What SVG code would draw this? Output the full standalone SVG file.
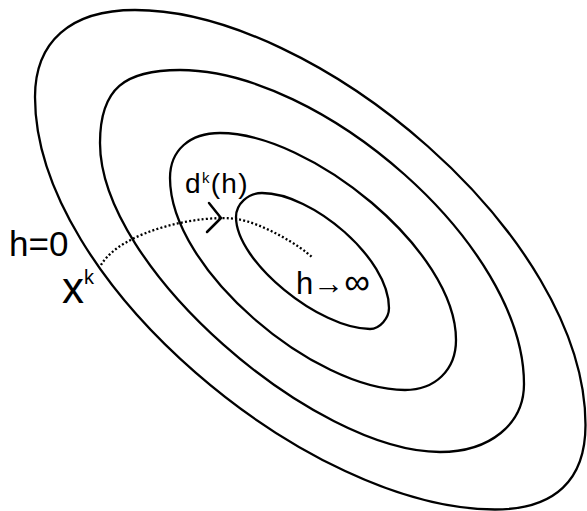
<svg xmlns="http://www.w3.org/2000/svg" width="587" height="511" viewBox="0 0 587 511">
<style>
.contour{fill:none;stroke:#000;stroke-width:2.3;stroke-linejoin:round}
.traj{fill:none;stroke:#000;stroke-width:2.3;stroke-dasharray:2 2.2}
.head{fill:none;stroke:#000;stroke-width:2.5;stroke-linecap:round;stroke-linejoin:round}
.lbl{font-family:"Liberation Sans","DejaVu Sans",sans-serif;fill:#000}
</style>
<rect width="587" height="511" fill="#fff"/>
<g id="contours">
<path id="contour-outer" class="contour" d="M35,97 C35,42 70,10 135,10 C315,10 585.5,235 585.5,425 C585.5,480 555,509.5 495,509.5 C310,509.5 35,282 35,97 Z"/>
<path id="contour-2" class="contour" d="M100,143 C100,88 125,70 180,70 C320,70 524,244 524,384 C524,424 490,452 440,452 C315,452 100,268 100,143 Z"/>
<path id="contour-3" class="contour" d="M170,178 C170,150 190,133 220,133 C310,133 456,250 456,340 C456,370 435,390 405,390 C315,390 170,270 170,178 Z"/>
<path id="contour-inner" class="contour" d="M236,217 C236,204 248,193 262,193 C312,193 389,258 389,308 C389,318 380,329 370,329 C320,329 236,262 236,217 Z"/>
</g>
<g id="connectors">
<path id="trajectory" class="traj" d="M101,265 C122,230 202,214 237,219 C262,223 301,246 313,258"/>
<path id="trajectory-head" class="head" d="M209,203 L221,218 L207,232"/>
</g>
<g id="label-dk">
<text class="lbl" x="185" y="193" font-size="28" letter-spacing="1.3">d<tspan font-size="15" dy="-10">k</tspan><tspan dy="10">(h)</tspan></text>
</g>
<g id="label-h0">
<text class="lbl" x="9" y="256" font-size="35">h=0</text>
</g>
<g id="label-xk">
<text class="lbl" x="62" y="303" font-size="44">x<tspan font-size="20" dy="-19">k</tspan></text>
</g>
<g id="label-hinf">
<text class="lbl" x="296" y="294" font-size="31">h→<tspan font-size="36">∞</tspan></text>
</g>
</svg>
